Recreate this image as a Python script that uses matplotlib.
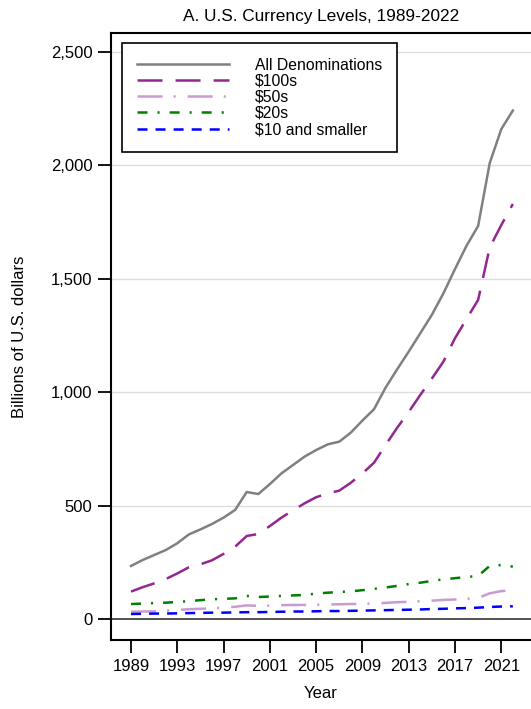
import matplotlib
matplotlib.use("Agg")
import matplotlib.pyplot as plt

plt.rcParams["font.family"] = ["Liberation Sans", "DejaVu Sans"]
plt.rcParams["lines.scale_dashes"] = False

years = list(range(1989, 2023))
all_denoms = [234, 260, 282, 304, 334, 373, 395, 419, 447, 481, 560, 551, 595, 642,
              679, 716, 745, 770, 782, 822, 875, 925, 1020, 1101, 1179, 1260, 1341,
              1436, 1543, 1646, 1733, 2010, 2160, 2242]
hundreds = [121, 140, 157, 176, 201, 228, 241, 259, 287, 319, 366, 375, 410, 447, 479,
            510, 537, 554, 566, 601, 642, 689, 767, 843, 913, 988, 1060, 1135, 1238,
            1323, 1407, 1638, 1737, 1830]
fifties = [32, 33, 34, 37, 40, 43, 45, 47, 50, 54, 60, 58, 59, 61, 62, 62, 63, 64, 65,
           66, 67, 68, 71, 74, 76, 78, 81, 84, 86, 89, 93, 113, 123, 126]
twenties = [66, 68, 70, 72, 75, 79, 83, 87, 89, 91, 102, 97, 99, 102, 104, 106, 112,
            116, 119, 122, 127, 133, 139, 146, 154, 160, 168, 175, 180, 185, 190, 234,
            238, 231]
tens_smaller = [22, 23, 24, 24, 25, 26, 27, 28, 28, 29, 30, 30, 31, 32, 33, 33, 34, 35,
                35, 36, 37, 38, 39, 40, 41, 42, 44, 45, 47, 48, 50, 53, 55, 56]

x_ticks = list(range(1989, 2022, 4))
y_ticks = [0, 500, 1000, 1500, 2000, 2500]

fig = plt.figure(figsize=(5.31, 7.09), dpi=100)
ax = fig.add_axes([111 / 531, 69 / 709, 420 / 531, 607 / 709])

for y in y_ticks[1:]:
    ax.axhline(y, color="#dddddd", lw=1.0, zorder=0)
ax.axhline(0, color="#444444", lw=1.3, zorder=1)

ax.plot(years, all_denoms, color="#808080", lw=1.8, label="All Denominations")
ax.plot(years, hundreds, color="#93278f", lw=1.8, dashes=(18, 9.4),
        label="$100s")
ax.plot(years, fifties, color="#c99bd1", lw=1.8, dashes=(18, 8, 1.5, 8.6),
        label="$50s")
ax.plot(years, twenties, color="#008000", lw=1.8, dashes=(7.2, 7.2, 1.5, 7.2),
        label="$20s")
ax.plot(years, tens_smaller, color="#0000ff", lw=1.8, dashes=(7.2, 5.8),
        label="$10 and smaller")

ax.set_xlim(1987.27, 2023.57)
ax.set_ylim(-92.6, 2584)
ax.set_xticks(x_ticks)
ax.set_yticks(y_ticks)
ax.set_yticklabels([f"{v:,}" for v in y_ticks])
ax.tick_params(axis="both", direction="out", length=9.5, width=1.3,
               labelsize=12, color="black")
ax.tick_params(axis="x", pad=4)
ax.tick_params(axis="y", pad=4)
for side in ["left", "bottom", "top"]:
    ax.spines[side].set_linewidth(1.5)
    ax.spines[side].set_color("black")
ax.spines["right"].set_visible(False)

ax.set_xlabel("Year", fontsize=12, labelpad=9)
ax.set_ylabel("Billions of U.S. dollars", fontsize=12, labelpad=17)
ax.set_title("A. U.S. Currency Levels, 1989-2022", fontsize=12.4, pad=9)

leg = ax.legend(loc="upper left", bbox_to_anchor=(0.026, 0.984), borderaxespad=0,
                fontsize=11.3, handlelength=5.9, handletextpad=1.6,
                labelspacing=0.07, borderpad=0.95, fancybox=False, framealpha=1,
                edgecolor="black")
leg.get_frame().set_linewidth(1.2)

fig.savefig("out.png", dpi=100)
